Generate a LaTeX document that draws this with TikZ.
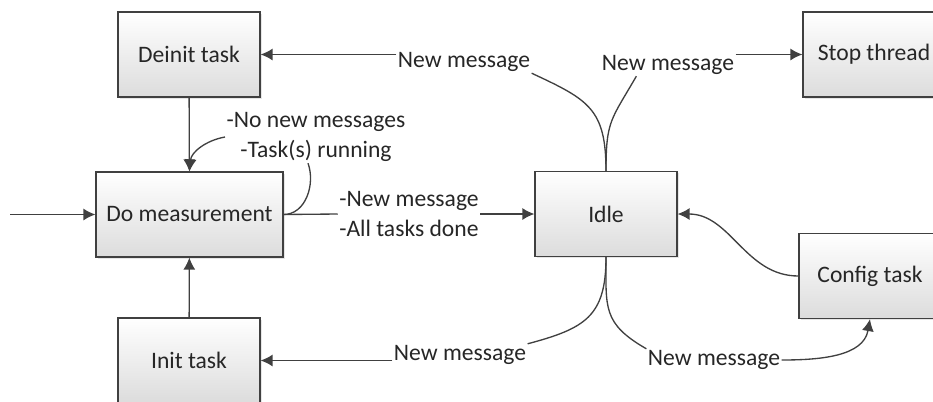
\documentclass[tikz,border=0pt]{standalone}
\usepackage{fontspec}
\setmainfont{Carlito}
\usepackage{tikz}
\usetikzlibrary{arrows.meta,shadows,positioning}
\definecolor{lineGray}{HTML}{404040}
\definecolor{boxGray}{HTML}{DCDCDC}
\newcommand{\diagfont}{\fontsize{17.7pt}{22.5pt}\selectfont}
\tikzset{
  stateBox/.style={ draw=lineGray, line width=0.9pt, top color=white, bottom color=boxGray,
    drop shadow={opacity=0.2, shadow xshift=1.2pt, shadow yshift=-1.2pt},
    minimum width=106.5pt, minimum height=63.75pt, font=\diagfont, text=black!85 }
}
\tikzset{
  msgLbl/.style={ inner sep=1pt, font=\diagfont, text=black!85 }
}
\tikzset{
  wire/.style={ draw=lineGray, line width=1pt }
}
\tikzset{
  arr/.style={ wire, -{Latex[length=9pt, width=9pt]} }
}

\begin{document}
\begin{tikzpicture}[x=0.75pt, y=-0.75pt]
  \clip (0, 0) rectangle (933, 401);
  % states
  \node[stateBox] (deinit) at (189, 54.5) {Deinit task};
  \node[stateBox, minimum width=140.25pt] (meas) at (189.5, 214.5) {Do measurement};
  \node[stateBox] (init) at (189, 360.5) {Init task};
  \node[stateBox] (idle) at (606, 214) {Idle};
  \node[stateBox] (stop) at (874, 54.5) {Stop thread};
  \node[stateBox] (config) at (870, 276) {Config task};
  \coordinate (start) at (10, 214.5);
  % transition labels
  \node[msgLbl, align=center] (loopLbl) at (316, 137) {-No new messages\\-Task(s) running};
  \node[msgLbl, align=left] (doneLbl) at (409, 214) {-New message\\-All tasks done};
  \node[msgLbl] (msgDeinit) at (464, 62) {New message};
  \node[msgLbl] (msgStop) at (668, 65) {New message};
  \node[msgLbl] (msgInit) at (460, 355) {New message};
  \node[msgLbl] (msgConfig) at (714, 360) {New message};
  % transitions
  \draw[arr] (start) -- (meas);
  \draw[arr] (deinit) -- (meas);
  \draw[arr] (init) -- (meas);
  \draw[wire] (meas.east) to[out=0, in=-70] ([xshift=-6pt]loopLbl.south);
  \draw[arr] (loopLbl.west) to[out=190, in=85] (meas.north);
  \draw[wire] (meas.east) -- (doneLbl.west);
  \draw[arr] (doneLbl.east) -- (idle.west);
  \draw[wire] (idle.north) to[out=90, in=-25, looseness=1.3] (msgDeinit.south east);
  \draw[arr] (msgDeinit.west |- deinit.east) -- (deinit.east);
  \draw[wire] (idle.north) to[out=90, in=-120, looseness=1.3] ([xshift=27pt]msgStop.south west);
  \draw[arr] (msgStop.east |- stop.west) -- (stop.west);
  \draw[wire] (idle.south) to[out=-90, in=15, looseness=1.3] (msgInit.north east);
  \draw[arr] (msgInit.west |- init.east) -- (init.east);
  \draw[wire] (idle.south) to[out=-90, in=150, looseness=1.3] (msgConfig.north west);
  \draw[arr] (msgConfig.east) to[out=0, in=-100] (config.south);
  \draw[arr] (config.west) to[out=180, in=0] (idle.east);
\end{tikzpicture}
\end{document}
